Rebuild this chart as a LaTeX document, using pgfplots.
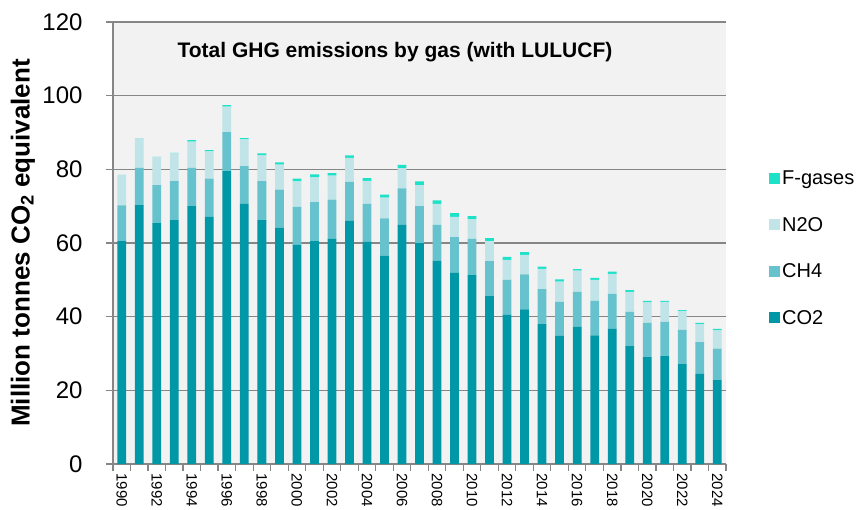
\documentclass[border=0pt]{standalone}
\usepackage{pgfplots}
\pgfplotsset{compat=1.18}
\usepackage{pgfplotstable}
\usepackage{fontspec}
\setmainfont{Liberation Sans}
\definecolor{cco}{RGB}{0,151,167}
\definecolor{cch}{RGB}{102,194,204}
\definecolor{cno}{RGB}{192,228,232}
\definecolor{cfg}{RGB}{29,226,200}
\definecolor{bgc}{RGB}{242,242,242}
\definecolor{grd}{RGB}{134,134,134}
\pgfplotstableread{
x co2 ch4 n2o fg
0 60.5 9.7 8.2 0.1
1 70.3 10.1 8.0 0.1
2 65.4 10.3 7.6 0.1
3 66.2 10.6 7.5 0.15
4 70.0 10.4 7.1 0.4
5 67.1 10.4 7.4 0.3
6 79.5 10.6 6.9 0.4
7 70.6 10.3 7.2 0.4
8 66.2 10.6 7.0 0.5
9 64.2 10.3 6.8 0.6
10 59.5 10.3 6.9 0.8
11 60.5 10.6 6.7 0.8
12 61.1 10.7 6.5 0.7
13 66.0 10.6 6.5 0.7
14 60.3 10.3 6.3 0.7
15 56.6 10.1 5.6 0.8
16 64.9 9.9 5.5 0.9
17 60.0 10.0 5.7 1.0
18 55.2 9.7 5.7 1.0
19 51.9 9.7 5.5 1.0
20 51.3 9.8 5.3 0.9
21 45.6 9.5 5.4 0.8
22 40.5 9.5 5.4 0.8
23 42.0 9.5 5.3 0.7
24 38.0 9.5 5.5 0.6
25 34.8 9.2 5.5 0.6
26 37.3 9.4 5.8 0.4
27 34.9 9.4 5.7 0.5
28 36.7 9.5 5.4 0.6
29 32.0 9.3 5.4 0.5
30 29.0 9.3 5.6 0.4
31 29.3 9.3 5.4 0.3
32 27.1 9.3 5.2 0.2
33 24.5 8.6 4.9 0.3
34 22.8 8.5 5.0 0.4
}\data
\begin{document}
\begin{tikzpicture}
\begin{axis}[
  name=ax,
  width=613pt, height=442pt, scale only axis,
  ybar stacked, bar width=0.5,
  xmin=-0.5, xmax=34.5, ymin=0, ymax=120,
  axis x line*=bottom, axis y line*=left,
  axis line style={grd, line width=1.3pt},
  axis background/.style={fill=bgc},
  ytick={0,20,...,120},
  ymajorgrids, grid style={grd, line width=1.3pt},
  tick align=outside, major tick length=7pt,
  tick style={grd, line width=1.2pt},
  xtick={-0.5,0.5,...,34.5}, xticklabels={},
  extra x ticks={0,2,...,34},
  extra x tick labels={1990,1992,1994,1996,1998,2000,2002,2004,2006,2008,2010,2012,2014,2016,2018,2020,2022,2024},
  extra x tick style={major tick length=0pt, grid=none,
     tick label style={rotate=-90, anchor=west, font=\fontsize{15}{17}\selectfont, xshift=6pt}},
  /pgf/number format/assume math mode=true,
  yticklabel style={font=\fontsize{24}{28}\selectfont, xshift=-20pt, anchor=east},
  ylabel={\bfseries Million tonnes CO\textsubscript{2} equivalent},
  ylabel style={at={(axis description cs:-0.147,0.5)}, anchor=center, font=\fontsize{26}{30}\selectfont},
  legend style={at={(1.07,0.668)}, anchor=north west, draw=none, fill=none,
     font=\fontsize{20}{23}\selectfont, row sep=27pt, inner sep=0pt},
  legend cell align=left,
  reverse legend,
  legend image code/.code={\fill[#1] (0pt,-5.5pt) rectangle (11pt,5.5pt);},
]
\addplot[fill=cco, draw=none] table[x=x, y=co2] {\data};
\addplot[fill=cch, draw=none] table[x=x, y=ch4] {\data};
\addplot[fill=cno, draw=none] table[x=x, y=n2o] {\data};
\addplot[fill=cfg, draw=none] table[x=x, y=fg] {\data};
\legend{CO2,CH4,N2O,F-gases}
\node[font=\bfseries\fontsize{21}{24}\selectfont] at (rel axis cs:0.46,0.932) {Total GHG emissions by gas (with LULUCF)};
\end{axis}
\pgfresetboundingbox
\useasboundingbox ([xshift=-113pt,yshift=-45pt]ax.south west) rectangle ([xshift=137pt,yshift=22pt]ax.north east);
\end{tikzpicture}
\end{document}
